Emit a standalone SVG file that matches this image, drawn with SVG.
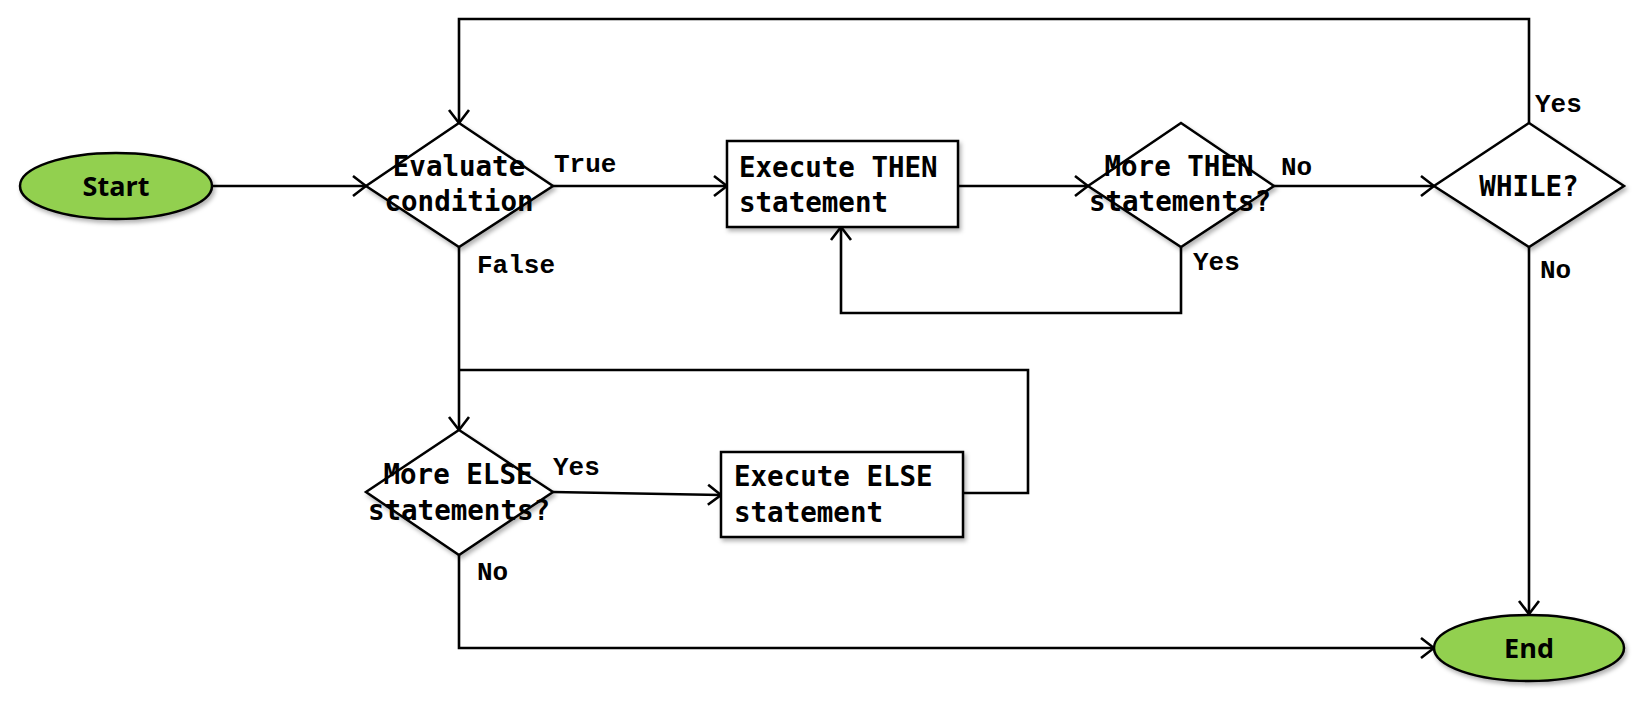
<svg xmlns="http://www.w3.org/2000/svg" width="1645" height="704" viewBox="0 0 1645 704">
<defs>
<style>
.node{fill:#fff;stroke:#000;stroke-width:2.5;filter:url(#sh)}
.term{fill:#92D050;stroke:#000;stroke-width:2.5;filter:url(#sh)}
.t{font-family:"DejaVu Sans Mono","Liberation Mono",monospace;font-weight:bold;font-size:27.5px;fill:#000}
.tc{text-anchor:middle}
.term-t{font-family:"Open Sans","Noto Sans",sans-serif;font-weight:bold;font-size:27px;text-anchor:middle;fill:#000}
.lbl{font-family:"Liberation Mono","Courier New",monospace;font-weight:bold;font-size:26px;fill:#000}
.c{fill:none;stroke:#000;stroke-width:2.6}
</style>
<filter id="sh" x="-10%" y="-10%" width="130%" height="140%">
<feDropShadow dx="2" dy="3" stdDeviation="2" flood-color="#000" flood-opacity="0.3"/>
</filter>
<marker id="arr" markerUnits="userSpaceOnUse" markerWidth="16" markerHeight="24" refX="14" refY="12" orient="auto">
<path d="M1,2 L14,12 L1,22" fill="none" stroke="#000" stroke-width="2.6"/>
</marker>
</defs>

<g id="connectors">
<path class="c" d="M213,186 L366,186" marker-end="url(#arr)"/>
<path class="c" d="M553,186 L727,186" marker-end="url(#arr)"/>
<path class="c" d="M958,186 L1088,186" marker-end="url(#arr)"/>
<path class="c" d="M1274,186 L1434,186" marker-end="url(#arr)"/>
<path class="c" d="M1529,123 L1529,19 L459,19 L459,123" marker-end="url(#arr)"/>
<path class="c" d="M1529,247 L1529,614" marker-end="url(#arr)"/>
<path class="c" d="M1181,247 L1181,313 L841,313 L841,227" marker-end="url(#arr)"/>
<path class="c" d="M459,247 L459,430" marker-end="url(#arr)"/>
<path class="c" d="M963,493 L1028,493 L1028,370 L459,370"/>
<path class="c" d="M553,492 L721,495" marker-end="url(#arr)"/>
<path class="c" d="M459,555 L459,648 L1434,648" marker-end="url(#arr)"/>
<text class="lbl" x="554" y="172">True</text>
<text class="lbl" x="477" y="273">False</text>
<text class="lbl" x="1281" y="175">No</text>
<text class="lbl" x="1193" y="270">Yes</text>
<text class="lbl" x="1535" y="112">Yes</text>
<text class="lbl" x="1540" y="278">No</text>
<text class="lbl" x="553" y="475">Yes</text>
<text class="lbl" x="477" y="580">No</text>
</g>

<g id="start">
<ellipse class="term" cx="116" cy="186" rx="96" ry="33"/>
<text class="term-t" x="116" y="196">Start</text>
</g>

<g id="evaluate">
<polygon class="node" points="459,123 553,186 459,247 366,186"/>
<text class="t tc" x="459" y="176">Evaluate</text>
<text class="t tc" x="459" y="211">condition</text>
</g>

<g id="exec-then">
<rect class="node" x="727" y="141" width="231" height="86"/>
<text class="t" x="739" y="177">Execute THEN</text>
<text class="t" x="739" y="212">statement</text>
</g>

<g id="more-then">
<polygon class="node" points="1181,123 1274,186 1181,247 1088,186"/>
<text class="t tc" x="1179" y="176">More THEN</text>
<text class="t tc" x="1180" y="211">statements?</text>
</g>

<g id="while">
<polygon class="node" points="1529,123 1624,186 1529,247 1434,186"/>
<text class="t tc" x="1529" y="196">WHILE?</text>
</g>

<g id="more-else">
<polygon class="node" points="459,430 553,492 459,555 366,492"/>
<text class="t tc" x="458" y="484">More ELSE</text>
<text class="t tc" x="459" y="520">statements?</text>
</g>

<g id="exec-else">
<rect class="node" x="721" y="452" width="242" height="85"/>
<text class="t" x="734" y="486">Execute ELSE</text>
<text class="t" x="734" y="522">statement</text>
</g>

<g id="end">
<ellipse class="term" cx="1529" cy="648" rx="95" ry="33"/>
<text class="term-t" x="1529" y="658">End</text>
</g>
</svg>
